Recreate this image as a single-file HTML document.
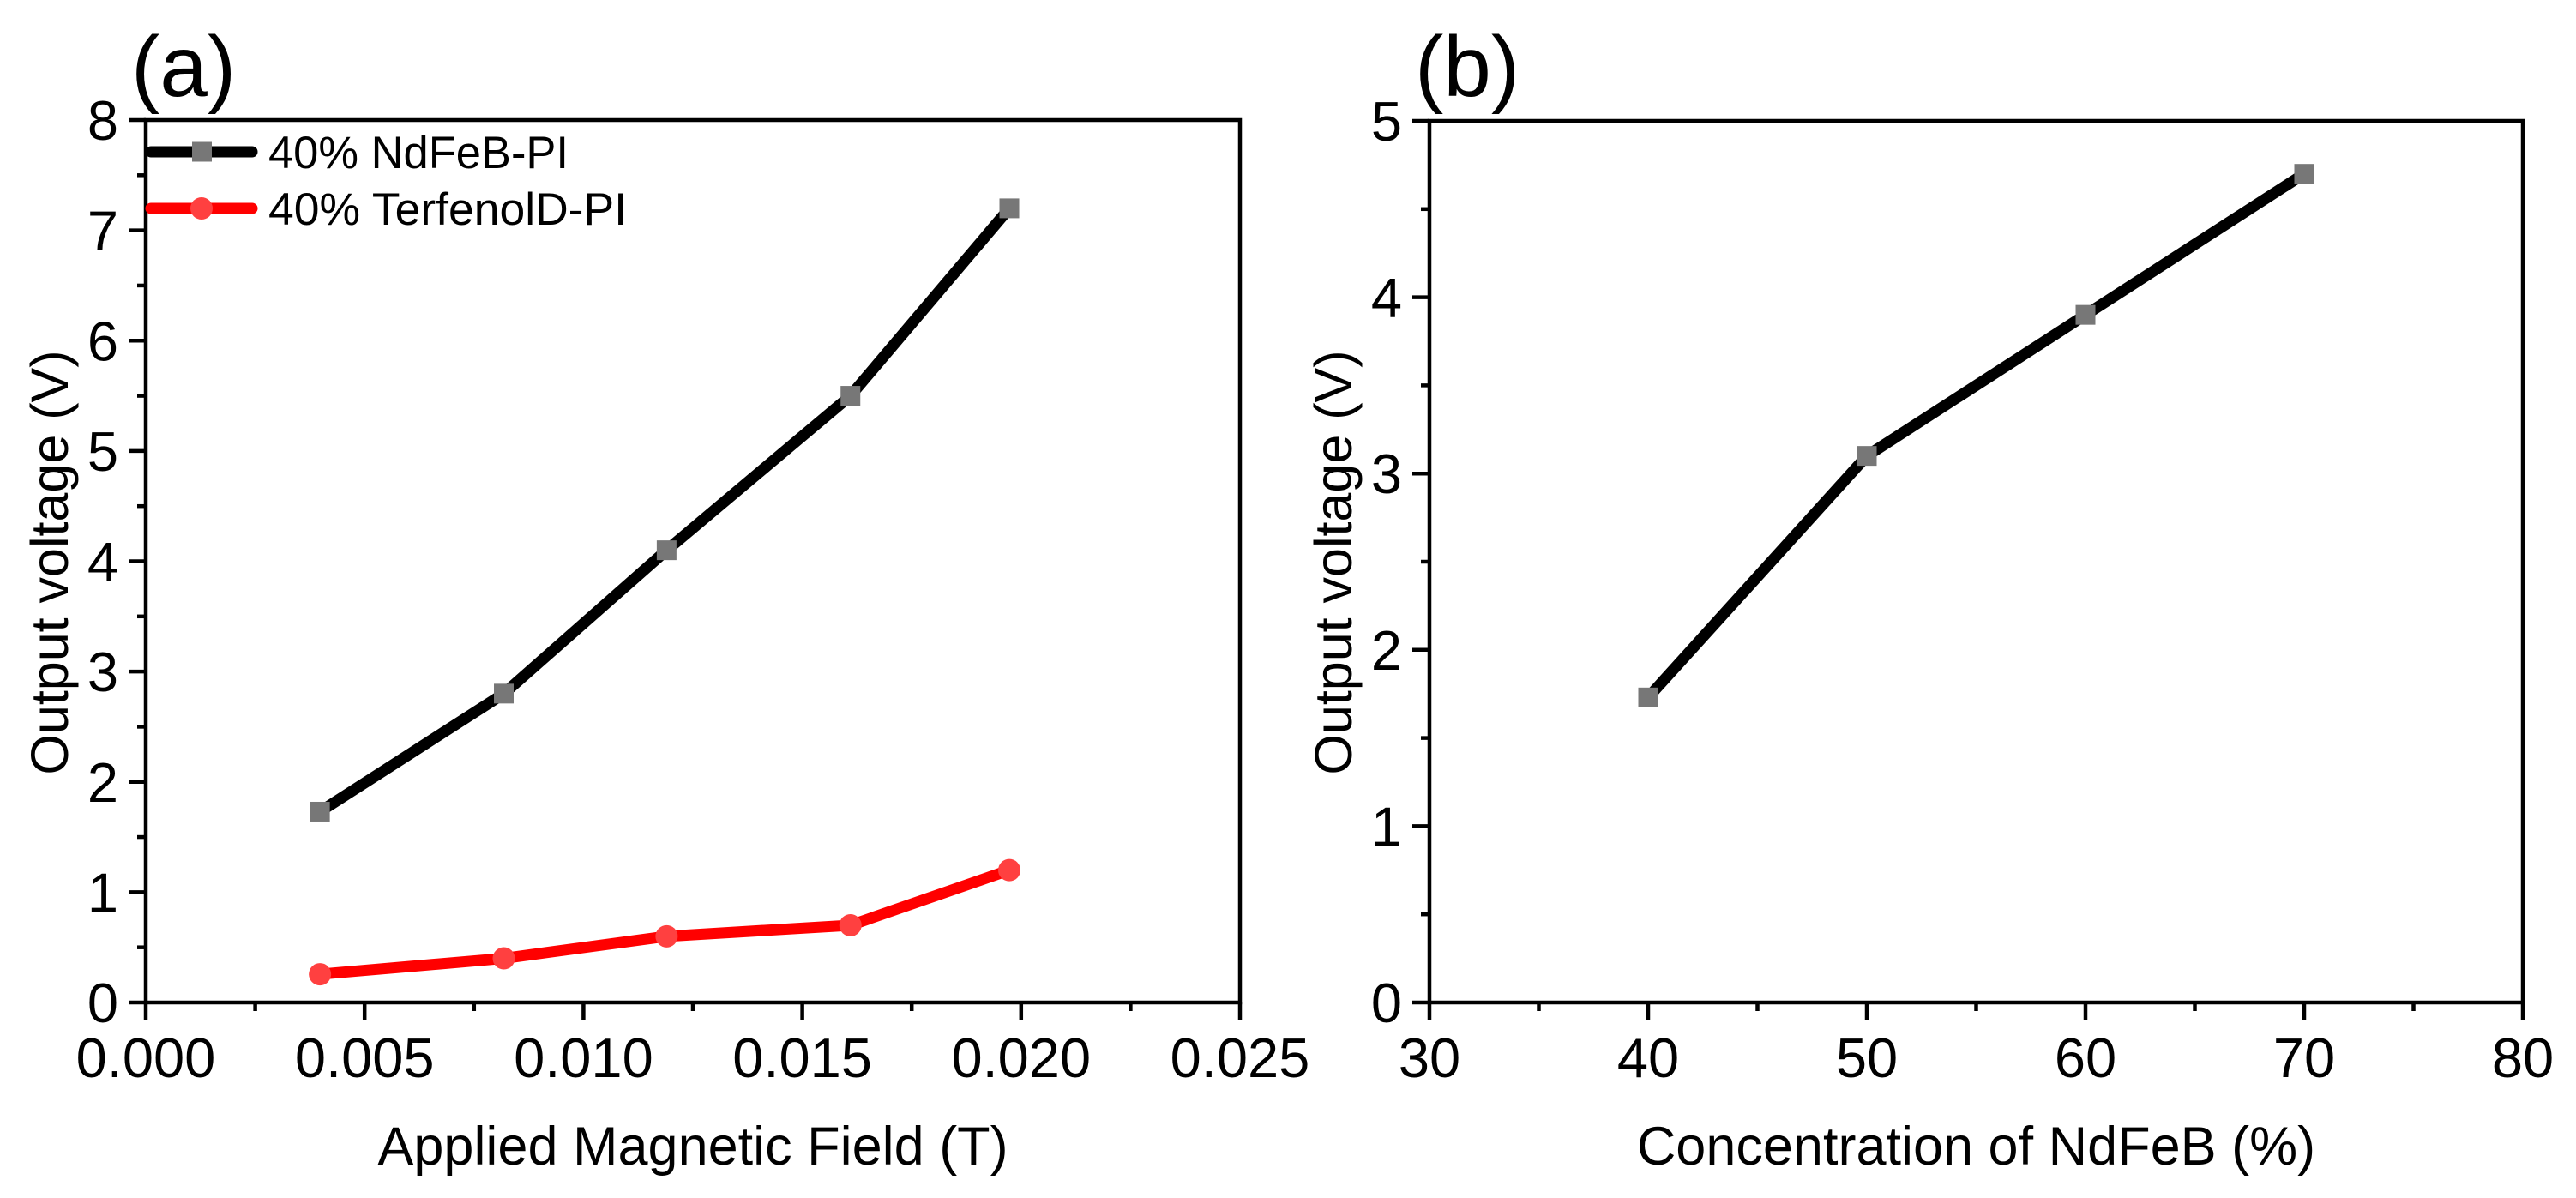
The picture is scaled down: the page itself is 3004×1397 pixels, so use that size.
<!DOCTYPE html>
<html><head><meta charset="utf-8"><style>
html,body{margin:0;padding:0;background:#fff;}
svg{display:block;font-family:"Liberation Sans",Arial,sans-serif;}
</style></head><body>
<svg id="chart" width="3004" height="1397" viewBox="0 0 3004 1397" xmlns="http://www.w3.org/2000/svg"></svg>
<script>
// Panel (a) data
const aFieldValues = [0.00398, 0.00818, 0.0119, 0.0161, 0.01973];
const aNdFeBVoltage = [1.73, 2.80, 4.10, 5.50, 7.20];
const aTerfenolVoltage = [0.256, 0.40, 0.60, 0.70, 1.20];
const aXTicks = [0, 0.005, 0.010, 0.015, 0.020, 0.025];
const aXTickLabels = ["0.000","0.005","0.010","0.015","0.020","0.025"];
const aYTicks = [0,1,2,3,4,5,6,7,8];
// Panel (b) data
const bConcentration = [40, 50, 60, 70];
const bVoltage = [1.73, 3.10, 3.90, 4.70];
const bXTicks = [30,40,50,60,70,80];
const bYTicks = [0,1,2,3,4,5];

const NS = "http://www.w3.org/2000/svg";
const svg = document.getElementById("chart");
function mk(tag, attrs, parent){
  const e = document.createElementNS(NS, tag);
  for (const k in attrs) e.setAttribute(k, attrs[k]);
  (parent||svg).appendChild(e);
  return e;
}

function panel(cfg){
  const g = mk("g", {});
  
  
  const L=cfg.left,R=cfg.right,T=cfg.top,B=cfg.bottom;
  const sx = v => L + (v-cfg.xmin)/(cfg.xmax-cfg.xmin)*(R-L);
  const sy = v => B - (v-cfg.ymin)/(cfg.ymax-cfg.ymin)*(B-T);
  const frame = mk("rect",{x:L,y:T,width:R-L,height:B-T,fill:"none",stroke:"#000","stroke-width":4.5},g);
  
  
  cfg.xTicks.forEach((v,i)=>{
    const x=sx(v);
    const t=mk("line",{x1:x,x2:x,y1:B,y2:B+20,stroke:"#000","stroke-width":4.5},g);
    
    
    if(i<cfg.xTicks.length-1){
      const xm=sx((v+cfg.xTicks[i+1])/2);
      const m=mk("line",{x1:xm,x2:xm,y1:B,y2:B+10,stroke:"#000","stroke-width":4.5},g);
      
      
    }
    const lb=mk("text",{x:x,y:1256,"text-anchor":"middle","font-size":65,fill:"#000"},g);
    lb.textContent=cfg.xLabels[i];
    
    
  });
  cfg.yTicks.forEach((v,i)=>{
    const y=sy(v);
    const t=mk("line",{x1:L-20,x2:L,y1:y,y2:y,stroke:"#000","stroke-width":4.5},g);
    
    
    if(i<cfg.yTicks.length-1){
      const ym=sy((v+cfg.yTicks[i+1])/2);
      const m=mk("line",{x1:L-10,x2:L,y1:ym,y2:ym,stroke:"#000","stroke-width":4.5},g);
      
      
    }
    const lb=mk("text",{x:L-32,y:y+23,"text-anchor":"end","font-size":65,fill:"#000"},g);
    lb.textContent=String(v);
    
    
  });
  const xt=mk("text",{x:(L+R)/2,y:1358,"text-anchor":"middle","font-size":63,fill:"#000"},g);
  xt.textContent=cfg.xTitle;
  
  
  const yc=656;
  const yx=L-112;
  const yt=mk("text",{x:yx,y:yc,"text-anchor":"middle","dominant-baseline":"central","font-size":61,fill:"#000",transform:`rotate(-90 ${yx} ${yc})`},g);
  yt.textContent="Output voltage (V)";
  
  
  const pl=mk("text",{x:L-17,y:112,"font-size":100,fill:"#000"},g);
  pl.textContent=cfg.panelLabel;
  
  
  cfg.series.forEach(s=>{
    const pts=s.x.map((v,i)=>sx(v)+","+sy(s.y[i])).join(" ");
    const line=mk("polyline",{points:pts,fill:"none",stroke:s.color,"stroke-width":13,"stroke-linejoin":"round","stroke-linecap":"round"},g);
    
    
    s.x.forEach((v,i)=>{
      let m;
      if(s.marker==="square"){
        m=mk("rect",{x:sx(v)-11.5,y:sy(s.y[i])-11.5,width:23,height:23,fill:s.mcolor},g);
      } else {
        m=mk("circle",{cx:sx(v),cy:sy(s.y[i]),r:13,fill:s.mcolor},g);
      }
      
      
    });
  });
  return g;
}

panel({name:"panel-a",left:170,right:1446,top:140,bottom:1169,xmin:0,xmax:0.025,ymin:0,ymax:8,
  xTicks:aXTicks,xLabels:aXTickLabels,yTicks:aYTicks,xTitle:"Applied Magnetic Field (T)",panelLabel:"(a)",
  series:[
    {name:"ndfeb",x:aFieldValues,y:aNdFeBVoltage,color:"#000",mcolor:"#777",marker:"square"},
    {name:"terfenol",x:aFieldValues,y:aTerfenolVoltage,color:"#ff0000",mcolor:"#ff4040",marker:"circle"}
  ]});
panel({name:"panel-b",left:1667,right:2942,top:141,bottom:1169,xmin:30,xmax:80,ymin:0,ymax:5,
  xTicks:bXTicks,xLabels:bXTicks.map(String),yTicks:bYTicks,xTitle:"Concentration of NdFeB (%)",panelLabel:"(b)",
  series:[{name:"concentration",x:bConcentration,y:bVoltage,color:"#000",mcolor:"#777",marker:"square"}]});

const leg=mk("g",{});


const legendItems=[{label:"40% NdFeB-PI",color:"#000",mcolor:"#777",marker:"square",y:177,w:350},
                   {label:"40% TerfenolD-PI",color:"#ff0000",mcolor:"#ff4040",marker:"circle",y:243,w:418}];
legendItems.forEach(it=>{
  const e=mk("g",{},leg);
  
  
  mk("line",{x1:176,x2:294,y1:it.y,y2:it.y,stroke:it.color,"stroke-width":13,"stroke-linecap":"round"},e);
  if(it.marker==="square") mk("rect",{x:224,y:it.y-11.5,width:23,height:23,fill:it.mcolor},e);
  else mk("circle",{cx:235,cy:it.y,r:13,fill:it.mcolor},e);
  const t=mk("text",{x:313,y:it.y+19,"font-size":53,textLength:it.w,lengthAdjust:"spacingAndGlyphs",fill:"#000"},e);
  t.textContent=it.label;
});
</script>
</body></html>
